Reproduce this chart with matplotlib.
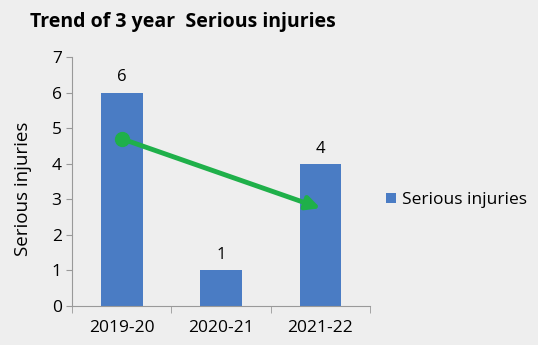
import matplotlib.pyplot as plt

years = ['2019-20', '2020-21', '2021-22']
injuries = [6, 1, 4]
trend_start = 4.7
trend_end = 2.75

plt.rcParams['font.family'] = ['Open Sans', 'DejaVu Sans']

fig = plt.figure(figsize=(5.38, 3.45), dpi=100, facecolor='#eeeeee')
ax = fig.add_axes([0.134, 0.113, 0.554, 0.722])
ax.set_facecolor('none')

x = range(len(years))
bars = ax.bar(x, injuries, width=0.42, color='#4a7cc4', label='Serious injuries')
for xi, v in zip(x, injuries):
    ax.text(xi, v + 0.2, str(v), ha='center', va='bottom', fontsize=12)

# trend arrow
ax.plot([0], [trend_start], 'o', color='#1fb04a', markersize=10)
ax.annotate('', xy=(2.0, trend_end), xytext=(0, trend_start),
            arrowprops=dict(arrowstyle='-|>', color='#1fb04a', lw=3.5,
                            mutation_scale=20, shrinkA=0, shrinkB=0))

ax.set_xlim(-0.5, 2.5)
ax.set_ylim(0, 7)
ax.set_xticks(list(x))
ax.set_xticklabels(years, fontsize=12.5)
ax.set_xticks([-0.5, 0.5, 1.5, 2.5], minor=True)
ax.tick_params(axis='x', which='major', length=0, pad=10)
ax.tick_params(axis='x', which='minor', length=5, color='#999999')
ax.tick_params(axis='y', labelsize=12.5, length=4, color='#999999')
ax.set_yticks(range(0, 8))
for side in ['top', 'right']:
    ax.spines[side].set_visible(False)
ax.spines['left'].set_color('#999999')
ax.spines['bottom'].set_color('#999999')

ax.set_ylabel('Serious injuries', fontsize=13.5)
ax.yaxis.set_label_coords(-0.135, 0.47)
fig.text(0.056, 0.935, 'Trend of 3 year  Serious injuries', fontsize=14,
         fontweight='bold', va='center')

fig.legend(handles=[bars], loc='center left', bbox_to_anchor=(0.705, 0.42),
           frameon=False, fontsize=12.5, handlelength=0.55, handleheight=0.55,
           handletextpad=0.35, borderaxespad=0)

fig.savefig('out.png', dpi=100, facecolor=fig.get_facecolor())
